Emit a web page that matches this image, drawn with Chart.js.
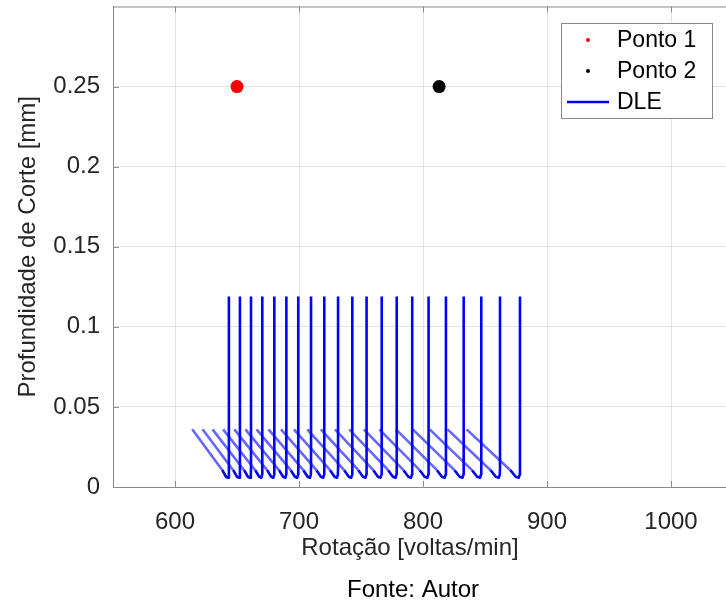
<!DOCTYPE html>
<html>
<head>
<meta charset="utf-8">
<script src="https://cdn.jsdelivr.net/npm/chart.js@4.4.0/dist/chart.umd.min.js"></script>
<style>
    html, body { margin: 0; padding: 0; background: #fff; overflow: hidden; }
    #wrap { position: relative; width: 726px; height: 609px; overflow: hidden; }
    canvas { position: absolute; left: 0; top: 0; }
</style>
</head>
<body>
<div id="wrap"><canvas id="chart" width="740" height="609"></canvas></div>
<script>
// Pontos de operacao
const ponto1 = [{ x: 650, y: 0.25 }];
const ponto2 = [{ x: 813, y: 0.25 }];

// DLE: rotacao do ramo vertical de cada lobulo e inicio do ramo inclinado
const lobeMin = [643.5, 652.4, 661.3, 670.4, 680.1, 689.8, 699.4, 709.7, 720.4, 731.5, 743.0,
                 754.5, 766.7, 778.8, 791.3, 804.5, 818.5, 832.8, 847.0, 862.1, 878.2];
const lobeStart = [613.9, 622.2, 630.3, 638.8, 647.8, 656.8, 665.8, 675.4, 685.5, 695.9, 706.7,
                   717.6, 729.0, 740.5, 752.3, 764.8, 778.2, 791.8, 805.4, 819.8, 835.2];
const lobeTopY = 0.119;
const lobeStartY = 0.036;
const lobeKneeY = 0.0105;
const lobeBottomY = 0.0058;

const xTicks = [600, 700, 800, 900, 1000];
const yTicks = [0, 0.05, 0.1, 0.15, 0.2, 0.25];

const FONT = '"Liberation Sans", Arial, sans-serif';

function lobePoints(i) {
    const v = lobeMin[i];
    const w = v - lobeStart[i];
    return [
        { x: lobeStart[i], y: lobeStartY },
        { x: v - 0.18 * w, y: lobeKneeY },
        { x: v - 0.08 * w, y: lobeBottomY + 0.0006 },
        { x: v - 0.025 * w, y: lobeBottomY },
        { x: v - 0.004 * w, y: lobeBottomY + 0.002 },
        { x: v, y: lobeBottomY + 0.006 },
        { x: v, y: lobeTopY }
    ];
}

const lobeSets = lobeMin.map((v, i) => ({
    label: i === 0 ? 'DLE' : '',
    data: lobePoints(i),
    showLine: true,
    pointRadius: 0,
    borderWidth: 2.6,
    borderColor: '#0000ff',
    borderJoinStyle: 'round',
    segment: {
        borderColor: c => c.p0DataIndex === 0 ? 'rgba(0,0,255,0.6)' : '#0000ff'
    }
}));

// moldura, marcas internas e textos
const framePlugin = {
    id: 'frame',
    afterDraw(chart) {
        const ctx = chart.ctx;
        const a = chart.chartArea;
        const xs = chart.scales.x, ys = chart.scales.y;
        ctx.save();
        ctx.strokeStyle = '#8a8a8a';
        ctx.lineWidth = 1;
        ctx.beginPath();
        ctx.moveTo(a.left, a.top + 0.5);
        ctx.lineTo(a.right, a.top + 0.5);
        xTicks.forEach(v => {
            const px = Math.round(xs.getPixelForValue(v)) + 0.5;
            ctx.moveTo(px, a.bottom); ctx.lineTo(px, a.bottom - 6);
            ctx.moveTo(px, a.top); ctx.lineTo(px, a.top + 6);
        });
        yTicks.forEach(v => {
            const py = Math.round(ys.getPixelForValue(v)) + 0.5;
            ctx.moveTo(a.left, py); ctx.lineTo(a.left + 6, py);
        });
        ctx.stroke();

        ctx.fillStyle = '#262626';
        ctx.font = '24px ' + FONT;
        ctx.textAlign = 'center';
        ctx.textBaseline = 'middle';
        ctx.fillText('Rotação [voltas/min]', 410, 548);
        ctx.save();
        ctx.translate(28, (a.top + a.bottom) / 2);
        ctx.rotate(-Math.PI / 2);
        ctx.fillText('Profundidade de Corte [mm]', 0, 0);
        ctx.restore();
        ctx.fillStyle = '#000';
        ctx.fillText('Fonte: Autor', 413, 590);

        // legenda
        ctx.fillStyle = '#fff';
        ctx.fillRect(561, 23, 151, 95);
        ctx.strokeStyle = '#8a8a8a';
        ctx.strokeRect(561.5, 23.5, 151, 95);
        ctx.fillStyle = '#ff0000';
        ctx.beginPath(); ctx.arc(588, 40, 2, 0, Math.PI * 2); ctx.fill();
        ctx.fillStyle = '#000';
        ctx.beginPath(); ctx.arc(588, 71, 2, 0, Math.PI * 2); ctx.fill();
        ctx.strokeStyle = '#0000ff';
        ctx.lineWidth = 2.5;
        ctx.beginPath(); ctx.moveTo(567, 102); ctx.lineTo(609, 102); ctx.stroke();
        ctx.fillStyle = '#000';
        ctx.font = '23px ' + FONT;
        ctx.textAlign = 'left';
        ctx.fillText('Ponto 1', 617, 41);
        ctx.fillText('Ponto 2', 617, 72);
        ctx.fillText('DLE', 617, 103);
        ctx.restore();
    }
};

new Chart(document.getElementById('chart'), {
    type: 'scatter',
    data: {
        datasets: [
            { label: 'Ponto 1', data: ponto1, pointRadius: 6.5, pointBackgroundColor: '#ff0000', pointBorderWidth: 0 },
            { label: 'Ponto 2', data: ponto2, pointRadius: 6.5, pointBackgroundColor: '#000000', pointBorderWidth: 0 },
            ...lobeSets
        ]
    },
    options: {
        responsive: false,
        animation: false,
        layout: { padding: { top: 6, right: 7, left: 0, bottom: 0 } },
        plugins: { legend: { display: false }, tooltip: { enabled: false } },
        scales: {
            x: {
                type: 'linear',
                min: 550,
                max: 1050,
                afterBuildTicks: s => { s.ticks = xTicks.map(v => ({ value: v })); },
                afterFit: s => { s.height = 122; s.paddingLeft = 0; s.paddingRight = 0; },
                grid: { color: '#e3e3e3', drawTicks: false },
                border: { color: '#8a8a8a' },
                ticks: {
                    padding: 21,
                    maxRotation: 0,
                    color: '#262626',
                    font: { family: FONT, size: 24 },
                    callback: v => String(v)
                }
            },
            y: {
                min: 0,
                max: 0.3,
                afterBuildTicks: s => { s.ticks = yTicks.map(v => ({ value: v })); },
                afterFit: s => { s.width = 113; s.paddingTop = 0; s.paddingBottom = 0; },
                grid: { color: '#e3e3e3', drawTicks: false },
                border: { color: '#8a8a8a' },
                ticks: {
                    padding: 13,
                    color: '#262626',
                    font: { family: FONT, size: 24 },
                    callback: v => String(+v.toFixed(2))
                }
            }
        }
    },
    plugins: [framePlugin]
});
</script>
</body>
</html>
